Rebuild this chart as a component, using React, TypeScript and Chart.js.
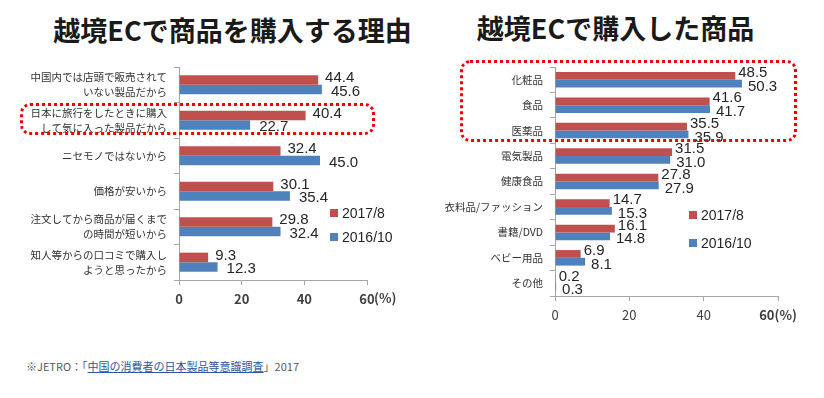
import React, { useEffect, useRef } from "react";
import { Chart, registerables } from "chart.js";

Chart.register(...registerables);

// ---- data ----
const seriesNames = ["2017/8", "2016/10"];
const seriesColors = ["#C0504D", "#4F81BD"];

const reasonCategories = [
  ["中国内では店頭で販売されて", "いない製品だから"],
  ["日本に旅行をしたときに購入", "して気に入った製品だから"],
  "ニセモノではないから",
  "価格が安いから",
  ["注文してから商品が届くまで", "の時間が短いから"],
  ["知人等からの口コミで購入し", "ようと思ったから"],
];
const reason2017 = [44.4, 40.4, 32.4, 30.1, 29.8, 9.3];
const reason2016 = [45.6, 22.7, 45.0, 35.4, 32.4, 12.3];

const productCategories = [
  "化粧品",
  "食品",
  "医薬品",
  "電気製品",
  "健康食品",
  "衣料品/ファッション",
  "書籍/DVD",
  "ベビー用品",
  "その他",
];
const product2017 = [48.5, 41.6, 35.5, 31.5, 27.8, 14.7, 16.1, 6.9, 0.2];
const product2016 = [50.3, 41.7, 35.9, 31.0, 27.9, 15.3, 14.8, 8.1, 0.3];

const axisMax = 60;
const axisStep = 20;

const titleLeft = "越境ECで商品を購入する理由";
const titleRight = "越境ECで購入した商品";
const notePrefix = "※JETRO：「";
const noteLink = "中国の消費者の日本製品等意識調査";
const noteSuffix = "」2017";

const CJK = '"Noto Sans CJK JP", "Noto Sans", sans-serif';
const NUM = '"Liberation Sans", Arial, sans-serif';

type ChartCfg = {
  labels: any[];
  a: number[];
  b: number[];
  yWidth: number;
  padTop: number;
  padRight: number;
  catPct: number;
  labelOffsets: { dx: number; dy: number }[];
  leftStyle: boolean;
};

function makeChart(canvas: HTMLCanvasElement, cfg: ChartCfg) {
  const labelPlugin = {
    id: "valueLabels",
    afterDatasetsDraw(chart: any) {
      const ctx = chart.ctx;
      ctx.save();
      ctx.font = `15px ${NUM}`;
      ctx.fillStyle = "#262626";
      ctx.textAlign = "left";
      ctx.textBaseline = "middle";
      chart.data.datasets.forEach((ds: any, di: number) => {
        const meta = chart.getDatasetMeta(di);
        const off = cfg.labelOffsets[di];
        meta.data.forEach((el: any, i: number) => {
          const v = ds.data[i];
          ctx.fillText(v.toFixed(1), el.x + off.dx, el.y + off.dy);
        });
      });
      ctx.restore();
    },
    afterDraw(chart: any) {
      if (!cfg.leftStyle) return;
      const xs = chart.scales.x;
      const ctx = chart.ctx;
      ctx.save();
      ctx.font = `bold 13px ${CJK}`;
      ctx.fillStyle = "#404040";
      ctx.textAlign = "left";
      ctx.textBaseline = "middle";
      ctx.fillText("(%)", xs.getPixelForValue(axisMax) + 7, xs.top + 18.5);
      ctx.restore();
    },
  };

  return new Chart(canvas, {
    type: "bar",
    data: {
      labels: cfg.labels,
      datasets: [
        {
          label: seriesNames[0],
          data: cfg.a,
          backgroundColor: seriesColors[0],
          categoryPercentage: cfg.catPct,
          barPercentage: 1,
        },
        {
          label: seriesNames[1],
          data: cfg.b,
          backgroundColor: seriesColors[1],
          categoryPercentage: cfg.catPct,
          barPercentage: 1,
        },
      ],
    },
    options: {
      indexAxis: "y",
      responsive: false,
      animation: false,
      devicePixelRatio: 1,
      layout: { padding: { top: cfg.padTop, right: cfg.padRight, left: 0, bottom: 0 } },
      plugins: {
        legend: { display: false },
        tooltip: { enabled: false },
        title: { display: false },
      },
      scales: {
        x: {
          min: 0,
          max: axisMax,
          afterFit: (s: any) => {
            s.height = 30;
            s.paddingLeft = 0;
            s.paddingRight = 0;
          },
          grid: {
            display: true,
            drawOnChartArea: false,
            tickLength: 5,
            color: "#A6A6A6",
          },
          border: { display: true, color: "#A6A6A6" },
          ticks: {
            stepSize: axisStep,
            padding: 6,
            color: "#404040",
            font: (c: any) =>
              cfg.leftStyle
                ? { family: CJK, size: 13, weight: "bold" }
                : c.tick && c.tick.value === axisMax
                ? { family: CJK, size: 13, weight: "bold" }
                : { family: CJK, size: 13, weight: "normal" },
            callback: (v: any) =>
              !cfg.leftStyle && v === axisMax ? `${v}(%)` : `${v}`,
          },
        },
        y: {
          afterFit: (s: any) => {
            s.width = cfg.yWidth;
            s.paddingTop = 0;
            s.paddingBottom = 0;
          },
          grid: {
            display: true,
            drawOnChartArea: false,
            tickLength: 5,
            color: "#A6A6A6",
            offset: true,
          },
          border: { display: true, color: "#A6A6A6" },
          ticks: {
            padding: 7,
            color: "#333333",
            font: { family: CJK, size: 10.5, lineHeight: 1.45 },
          },
        },
      },
    },
    plugins: [labelPlugin],
  } as any);
}

function Legend({ left, top, gap }: { left: number; top: number; gap: number }) {
  return (
    <>
      {seriesNames.map((n, i) => (
        <div
          key={n}
          style={{
            position: "absolute",
            left,
            top: top + i * gap,
            height: 16,
            display: "flex",
            alignItems: "center",
            font: `14px ${NUM}`,
            color: "#262626",
            whiteSpace: "nowrap",
          }}
        >
          <span
            style={{
              display: "inline-block",
              width: 8,
              height: 8,
              background: seriesColors[i],
              marginRight: 4,
            }}
          />
          {n}
        </div>
      ))}
    </>
  );
}

export default function App() {
  const leftRef = useRef<HTMLCanvasElement>(null);
  const rightRef = useRef<HTMLCanvasElement>(null);

  useEffect(() => {
    const c1 = makeChart(leftRef.current!, {
      labels: reasonCategories,
      a: reason2017,
      b: reason2016,
      yWidth: 179,
      padTop: 9,
      padRight: 43,
      catPct: 0.54,
      labelOffsets: [
        { dx: 7, dy: -2 },
        { dx: 9, dy: 2 },
      ],
      leftStyle: true,
    });
    const c2 = makeChart(rightRef.current!, {
      labels: productCategories,
      a: product2017,
      b: product2016,
      yWidth: 135,
      padTop: 12,
      padRight: 46,
      catPct: 0.61,
      labelOffsets: [
        { dx: 3, dy: -3 },
        { dx: 6, dy: 3 },
      ],
      leftStyle: false,
    });
    return () => {
      c1.destroy();
      c2.destroy();
    };
  }, []);

  return (
    <div
      style={{
        position: "absolute",
        left: 0,
        top: 0,
        width: 824,
        height: 398,
        background: "#ffffff",
        overflow: "hidden",
      }}
    >
      <div
        style={{
          position: "absolute",
          left: 0,
          width: 465,
          top: 12,
          textAlign: "center",
          font: `bold 27px ${CJK}`,
          color: "#1a1a1a",
          whiteSpace: "nowrap",
          lineHeight: "36px",
        }}
      >
        {titleLeft}
      </div>
      <div
        style={{
          position: "absolute",
          left: 420,
          width: 391,
          top: 10,
          textAlign: "center",
          font: `bold 27px ${CJK}`,
          color: "#1a1a1a",
          whiteSpace: "nowrap",
          lineHeight: "36px",
        }}
      >
        {titleRight}
      </div>

      <canvas
        ref={leftRef}
        width={410}
        height={252}
        style={{ position: "absolute", left: 0, top: 58, width: 410, height: 252 }}
      />
      <canvas
        ref={rightRef}
        width={404}
        height={271}
        style={{ position: "absolute", left: 420, top: 55, width: 404, height: 271 }}
      />

      <Legend left={330} top={205} gap={24} />
      <Legend left={689} top={207} gap={28} />

      <div
        style={{
          position: "absolute",
          left: 20,
          top: 103,
          width: 355,
          height: 32,
          boxSizing: "border-box",
          border: "3px dotted #F00000",
          borderRadius: 10,
        }}
      />
      <div
        style={{
          position: "absolute",
          left: 460,
          top: 60,
          width: 337,
          height: 82,
          boxSizing: "border-box",
          border: "3px dotted #F00000",
          borderRadius: 10,
        }}
      />

      <div
        style={{
          position: "absolute",
          left: 26,
          top: 358,
          font: `11px ${CJK}`,
          color: "#595959",
          whiteSpace: "nowrap",
          lineHeight: "16px",
        }}
      >
        {notePrefix}
        <span style={{ color: "#2F55A4", textDecoration: "underline" }}>{noteLink}</span>
        {noteSuffix}
      </div>
    </div>
  );
}
